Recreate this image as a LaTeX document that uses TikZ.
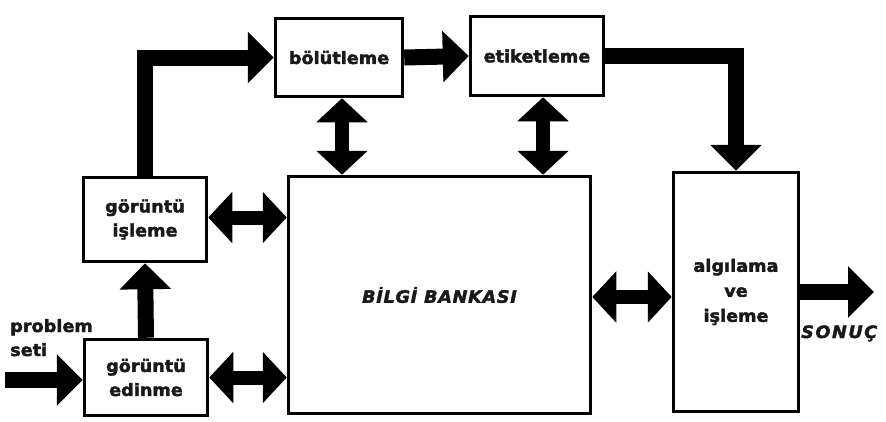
\documentclass[tikz,border=0pt]{standalone}
\usepackage{fontspec}
\usetikzlibrary{arrows.meta}
\newfontfamily\blk[FakeStretch=1.04,FakeBold=2.2]{DejaVu Sans}
\begin{document}
\begin{tikzpicture}[x=1pt,y=-1pt,
  txt/.style={font=\blk\bfseries\fontsize{17}{24}\selectfont, text=black!90},
  box/.style={txt, draw, line width=3.5pt, align=center, inner sep=0pt},
  flow/.style={line width=16pt, line join=miter, -{Triangle[width=50pt,length=26pt]}},
  dbl/.style={line width=14pt, {Triangle[width=50pt,length=24pt]}-{Triangle[width=50pt,length=24pt]}}
]
\useasboundingbox[fill=white] (0,0) rectangle (886,421);
% boxes
\node[box, minimum width=127pt, minimum height=78pt] (bol) at (339,57.5) {bölütleme};
\node[box, minimum width=133pt, minimum height=79pt] (eti) at (537,56) {etiketleme};
\node[box, minimum width=123pt, minimum height=84pt] (isl) at (145,219.5) {görüntü\\işleme};
\node[box, minimum width=123pt, minimum height=76pt] (edi) at (146,377.5) {görüntü\\edinme};
\node[box, minimum width=302pt, minimum height=237pt] (bank) at (439.5,295) {\itshape\addfontfeature{LetterSpace=4}BİLGİ BANKASI};
\node[box, minimum width=125pt, minimum height=239pt, font=\blk\bfseries\fontsize{17}{25}\selectfont] (alg) at (736,292) {algılama\\ve\\işleme};
% free texts
\node[txt, anchor=base west, align=left, inner sep=0pt] (prob) at (10,356) {problem\\seti};
\node[txt, anchor=base west, inner sep=0pt] (son) at (801,338) {\itshape\addfontfeature{LetterSpace=9}SONUÇ};
% free ends
\coordinate (in) at (5,380);
\coordinate (out) at (874,292);
% flow arrows
\draw[flow] (isl.north) |- (bol.west);
\draw[flow] (bol.east) -- (eti.west);
\draw[flow] (eti.east) -| (alg.north);
\draw[flow] (edi.north) -- (isl.south);
\draw[flow] (in) -- (in -| edi.west);
\draw[flow] (alg.east |- out) -- (out);
% double arrows
\draw[dbl] ([xshift=3pt]bol.south) -- ([xshift=3pt]bol.south |- bank.north);
\draw[dbl] ([xshift=6pt]eti.south) -- ([xshift=6pt]eti.south |- bank.north);
\draw[dbl] ([yshift=2pt]isl.east) -- ([yshift=2pt]isl.east -| bank.west);
\draw[dbl] (edi.east) -- (edi.east -| bank.west);
\draw[dbl] ([yshift=-2pt]bank.east) -- ([yshift=-2pt]bank.east -| alg.west);
\end{tikzpicture}
\end{document}
